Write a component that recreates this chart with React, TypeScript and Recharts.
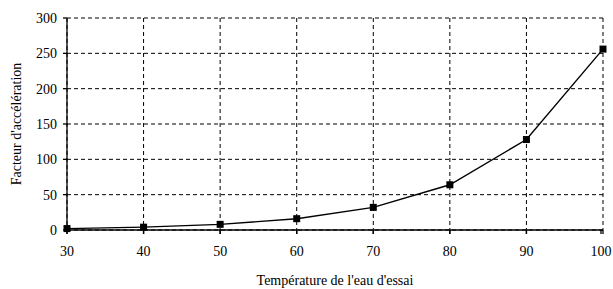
import React from 'react';
import { LineChart, Line, XAxis, YAxis, CartesianGrid } from 'recharts';

const temperatures = [30, 40, 50, 60, 70, 80, 90, 100];
const factors = [2, 4, 8, 16, 32, 64, 128, 256];
const xTicks = [30, 40, 50, 60, 70, 80, 90, 100];
const yTicks = [0, 50, 100, 150, 200, 250, 300];

const data = temperatures.map((t, i) => ({ t, f: factors[i] }));

const font = 'Liberation Serif';

const SquareDot = (props: any) => {
  const { cx, cy } = props;
  if (cx == null || cy == null) return null;
  return <rect x={cx - 3.5} y={cy - 3.5} width={7} height={7} fill="#000" />;
};

// x ticks cross the axis line in the original, so draw the upper half too
const XTick = (props: any) => {
  const { x, y, payload } = props;
  return (
    <g>
      <line x1={x} x2={x} y1={y - 16} y2={y - 12} stroke="#000" strokeWidth={1.3} />
      <text x={x} y={y} dy="0.71em" textAnchor="middle" fill="#000" fontSize={14} fontFamily={font}>
        {payload.value}
      </text>
    </g>
  );
};

const YTick = (props: any) => {
  const { x, y, payload } = props;
  return (
    <text x={x} y={y} dy="0.355em" textAnchor="end" fill="#000" fontSize={14} fontFamily={font}>
      {payload.value}
    </text>
  );
};

export default function App() {
  return (
    <div style={{ position: 'absolute', left: 0, top: 0, background: '#fff', fontFamily: font }}>
      <LineChart width={613} height={289} data={data} margin={{ top: 18, right: 10, bottom: 0, left: 0 }}>
        <CartesianGrid stroke="#000" strokeDasharray="4 3" strokeWidth={1} />
        <XAxis
          dataKey="t"
          type="number"
          domain={[30, 100]}
          ticks={xTicks}
          height={59}
          stroke="#000"
          strokeWidth={1.3}
          tickSize={4}
          tickMargin={12}
          tick={<XTick />}
          label={{ value: "Température de l'eau d'essai", position: 'insideBottom', offset: 4, fill: '#000', fontSize: 14, fontFamily: font }}
        />
        <YAxis
          type="number"
          domain={[0, 300]}
          ticks={yTicks}
          width={67}
          stroke="#000"
          strokeWidth={1.3}
          tickSize={4}
          tickMargin={6}
          tick={<YTick />}
          label={{ value: "Facteur d'accélération", angle: -90, position: 'insideLeft', offset: 16, fill: '#000', fontSize: 14, fontFamily: font, style: { textAnchor: 'middle' } }}
        />
        <Line
          dataKey="f"
          type="linear"
          stroke="#000"
          strokeWidth={1.4}
          dot={<SquareDot />}
          activeDot={false}
          isAnimationActive={false}
        />
      </LineChart>
    </div>
  );
}
